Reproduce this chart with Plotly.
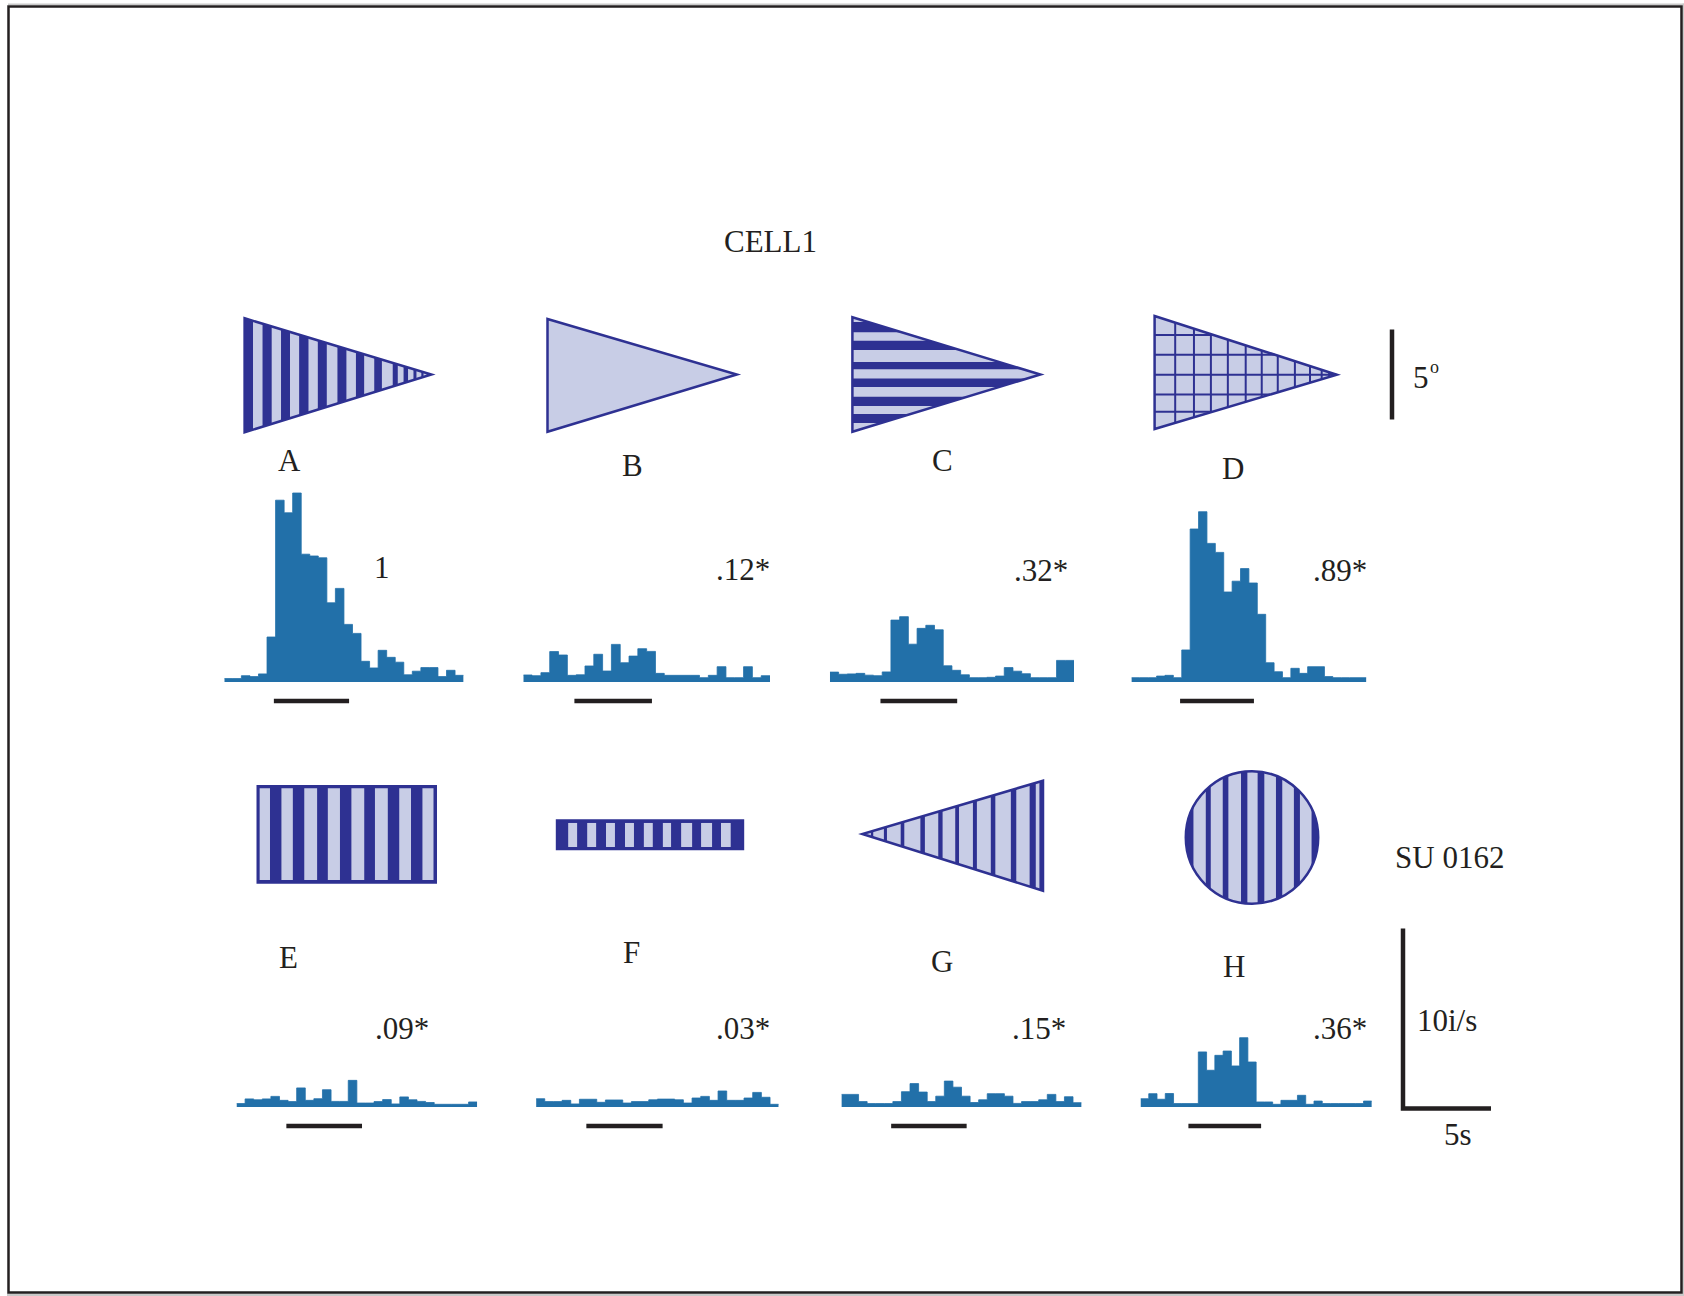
import numpy as np
import plotly.graph_objects as go

# ---------------------------------------------------------------- data
BIN_WIDTH = 0.5          # s per PSTH bin
N_BINS = 28              # 14 s sweep
STIM_ON, STIM_OFF = 2.9, 7.3   # s, stimulus presentation
SCALE_RATE = 10          # i/s, vertical calibration
SCALE_TIME = 5           # s, horizontal calibration

panel_letters = ["A", "B", "C", "D", "E", "F", "G", "H"]
response_ratio = ["1", ".12*", ".32*", ".89*", ".09*", ".03*", ".15*", ".36*"]

# firing rate (impulses/s) per bin
rate_A = [0.19, 0.19, 0.35, 0.30, 0.45, 2.5, 10.1, 9.4, 10.5, 7.1, 7.0, 6.9, 4.4, 5.2,
          3.2, 2.7, 1.15, 0.78, 1.76, 1.37, 1.1, 0.4, 0.6, 0.8, 0.8, 0.3, 0.65, 0.37]
rate_B = [0.39, 0.35, 0.52, 1.69, 1.5, 0.37, 0.4, 0.89, 1.54, 0.61, 2.09, 1.07, 1.44, 1.85,
          1.7, 0.48, 0.37, 0.37, 0.37, 0.37, 0.24, 0.37, 0.85, 0.24, 0.24, 0.85, 0.24, 0.35]
rate_C = [0.55, 0.43, 0.45, 0.48, 0.38, 0.35, 0.56, 3.44, 3.63, 2.1, 2.98, 3.15, 2.9, 0.9,
          0.65, 0.4, 0.24, 0.24, 0.26, 0.33, 0.8, 0.6, 0.46, 0.24, 0.24, 0.24, 1.2, 1.2]
rate_D = [0.24, 0.24, 0.24, 0.33, 0.37, 0.24, 1.78, 8.5, 9.46, 7.7, 7.2, 5.0, 5.6, 6.3,
          5.5, 3.76, 1.07, 0.57, 0.24, 0.76, 0.48, 0.85, 0.85, 0.3, 0.24, 0.24, 0.24, 0.24]
rate_E = [0.19, 0.45, 0.4, 0.45, 0.59, 0.37, 0.3, 1.06, 0.37, 0.46, 0.96, 0.31, 0.31, 1.48,
          0.22, 0.22, 0.3, 0.41, 0.17, 0.56, 0.4, 0.31, 0.25, 0.15, 0.15, 0.15, 0.15, 0.28]
rate_F = [0.46, 0.3, 0.3, 0.37, 0.17, 0.43, 0.43, 0.26, 0.39, 0.39, 0.22, 0.3, 0.3, 0.4,
          0.44, 0.44, 0.4, 0.22, 0.5, 0.59, 0.37, 0.89, 0.37, 0.37, 0.5, 0.81, 0.54, 0.15]
rate_G = [0.7, 0.7, 0.3, 0.19, 0.19, 0.19, 0.3, 0.85, 1.3, 0.83, 0.3, 0.6, 1.44, 1.1,
          0.6, 0.25, 0.4, 0.74, 0.74, 0.6, 0.2, 0.3, 0.3, 0.4, 0.7, 0.3, 0.57, 0.24]
rate_H = [0.46, 0.74, 0.43, 0.75, 0.19, 0.19, 0.19, 3.06, 2.04, 2.87, 3.11, 2.28, 3.85, 2.5,
          0.28, 0.28, 0.15, 0.37, 0.37, 0.65, 0.15, 0.33, 0.19, 0.19, 0.19, 0.19, 0.19, 0.33]
rates = [rate_A, rate_B, rate_C, rate_D, rate_E, rate_F, rate_G, rate_H]

# ---------------------------------------------------------------- layout constants
W, H = 1684, 1296
PX_PER_RATE = 18.0       # px per impulse/s
Y_LO, Y_HI = -1.6, 11.2
STIM_BAR_Y = -1.05

INK = "#231f20"
NAVY = "#2e3192"
LAVENDER = "#c8cde6"
HIST = "#2270a9"
FONT = "Liberation Serif"

# pixel extent of each histogram: (left, right, baseline)
panel_px = [
    (224.3, 463.6, 682), (523.3, 770.0, 682), (829.9, 1074.0, 682), (1131.4, 1366.4, 682),
    (236.5, 477.2, 1107), (536.1, 778.7, 1107), (841.4, 1081.6, 1107), (1140.5, 1371.8, 1107),
]


def px(x, y):
    return x / W, 1 - y / H


fig = go.Figure()
layout_axes = {}
edges = np.arange(N_BINS + 1) * BIN_WIDTH

for i, (r, (x0, x1, base)) in enumerate(zip(rates, panel_px)):
    n = i + 1
    xa, ya = ("x" if n == 1 else f"x{n}"), ("y" if n == 1 else f"y{n}")
    fig.add_trace(go.Scatter(
        x=edges, y=list(r) + [r[-1]], mode="lines", line_shape="hv",
        line=dict(color=HIST, width=0.8), fill="tozeroy", fillcolor=HIST,
        xaxis=xa, yaxis=ya, hoverinfo="skip", showlegend=False))
    fig.add_trace(go.Scatter(
        x=[STIM_ON, STIM_OFF], y=[STIM_BAR_Y, STIM_BAR_Y], mode="lines",
        line=dict(color=INK, width=4.5), xaxis=xa, yaxis=ya,
        hoverinfo="skip", showlegend=False))
    bottom_px = base - Y_LO * PX_PER_RATE
    top_px = base - Y_HI * PX_PER_RATE
    kx = "xaxis" if n == 1 else f"xaxis{n}"
    ky = "yaxis" if n == 1 else f"yaxis{n}"
    layout_axes[kx] = dict(domain=[x0 / W, x1 / W], range=[0, N_BINS * BIN_WIDTH],
                           visible=False, anchor=ya, fixedrange=True)
    layout_axes[ky] = dict(domain=[1 - bottom_px / H, 1 - top_px / H], range=[Y_LO, Y_HI],
                           visible=False, anchor=xa, fixedrange=True)

# calibration bars (10 i/s, 5 s)
cal_origin = (1403.0, 1108.5)
cal_px_per_s = 17.6
fig.add_trace(go.Scatter(
    x=[0, 0, SCALE_TIME], y=[SCALE_RATE, 0, 0], mode="lines",
    line=dict(color=INK, width=4.5), xaxis="x9", yaxis="y9",
    hoverinfo="skip", showlegend=False))
layout_axes["xaxis9"] = dict(
    domain=[(cal_origin[0] - 0.5 * cal_px_per_s) / W, (cal_origin[0] + 6.5 * cal_px_per_s) / W],
    range=[-0.5, 6.5], visible=False, anchor="y9", fixedrange=True)
layout_axes["yaxis9"] = dict(
    domain=[1 - (cal_origin[1] + 1 * PX_PER_RATE) / H, 1 - (cal_origin[1] - 11 * PX_PER_RATE) / H],
    range=[-1, 11], visible=False, anchor="x9", fixedrange=True)

# ---------------------------------------------------------------- stimulus icons
shapes = []


def poly(points, fill, line_color=None, width=0):
    pts = [px(x, y) for x, y in points]
    d = "M " + " L ".join(f"{a:.6f},{b:.6f}" for a, b in pts) + " Z"
    shapes.append(dict(type="path", xref="paper", yref="paper", path=d,
                       fillcolor=fill, line=dict(color=line_color or fill, width=width)))


def seg(p, q, color, width):
    a, b = px(*p)
    c, d = px(*q)
    shapes.append(dict(type="line", xref="paper", yref="paper", x0=a, y0=b, x1=c, y1=d,
                       line=dict(color=color, width=width)))


class Wedge:
    """Isosceles triangle: base edge at x=xb from yt to yb, apex at (xt, ym)."""

    def __init__(self, xb, yt, yb, xt, ym):
        self.xb, self.yt, self.yb, self.xt, self.ym = xb, yt, yb, xt, ym

    def x_at(self, u):
        return self.xb + u * (self.xt - self.xb)

    def top(self, x):
        return self.yt + (self.ym - self.yt) * (x - self.xb) / (self.xt - self.xb)

    def bot(self, x):
        return self.yb + (self.ym - self.yb) * (x - self.xb) / (self.xt - self.xb)

    def corners(self):
        return [(self.xb, self.yt), (self.xt, self.ym), (self.xb, self.yb)]

    def xe(self, y):
        if y <= self.ym:
            f = (y - self.yt) / (self.ym - self.yt)
        else:
            f = (self.yb - y) / (self.yb - self.ym)
        return self.xb + f * (self.xt - self.xb)

    def vstripe(self, u0, u1, color):
        a, b = self.x_at(u0), self.x_at(u1)
        poly([(a, self.top(a)), (b, self.top(b)), (b, self.bot(b)), (a, self.bot(a))], color)

    def hband(self, v0, v1, color):
        h = self.yb - self.yt
        y0, y1 = self.yt + v0 * h, self.yt + v1 * h
        pts = [(self.xb, y0), (self.xe(y0), y0)]
        if y0 < self.ym < y1:
            pts.append((self.xt, self.ym))
        pts += [(self.xe(y1), y1), (self.xb, y1)]
        poly(pts, color)

    def outline(self, width=2.5):
        poly(self.corners(), "rgba(0,0,0,0)", NAVY, width)


# A: grating wedge, bars narrowing toward apex
wA = Wedge(244.6, 318.3, 432.3, 431.4, 374.5)
poly(wA.corners(), LAVENDER)
for u0, u1 in [(0, 0.045), (0.096, 0.145), (0.195, 0.243), (0.292, 0.342), (0.392, 0.44),
               (0.497, 0.545), (0.596, 0.64), (0.694, 0.735), (0.793, 0.82), (0.851, 0.875),
               (0.904, 0.92), (0.946, 0.958), (0.975, 0.985)]:
    wA.vstripe(u0, u1, NAVY)
wA.outline()

# B: uniform wedge
wB = Wedge(547.5, 319.0, 431.7, 736.8, 374.5)
poly(wB.corners(), LAVENDER)
wB.outline()

# C: horizontal grating wedge
wC = Wedge(852.4, 317.3, 431.7, 1040.4, 374.5)
poly(wC.corners(), LAVENDER)
for v0, v1 in [(0.04, 0.13), (0.205, 0.285), (0.39, 0.455), (0.535, 0.61), (0.695, 0.775),
               (0.845, 0.925)]:
    wC.hband(v0, v1, NAVY)
wC.outline()

# D: checkerboard-grid wedge
wD = Wedge(1154.6, 316.0, 429.0, 1336.8, 374.7)
poly(wD.corners(), LAVENDER)
for u in [0.113, 0.216, 0.309, 0.402, 0.5, 0.588, 0.676, 0.77, 0.853, 0.917, 0.958]:
    x = wD.x_at(u)
    seg((x, wD.top(x)), (x, wD.bot(x)), NAVY, 2)
for v in [0.168, 0.343, 0.52, 0.695, 0.848]:
    y = wD.yt + v * (wD.yb - wD.yt)
    seg((wD.xb, y), (wD.xe(y), y), NAVY, 2)
wD.outline()

# E: large square-wave grating
ex0, ex1, ey0, ey1 = 257.5, 436.0, 786.0, 882.7
poly([(ex0, ey0), (ex1, ey0), (ex1, ey1), (ex0, ey1)], NAVY, NAVY, 2)
for u0, u1 in [(0.012, 0.07), (0.134, 0.198), (0.262, 0.334), (0.394, 0.462), (0.526, 0.598),
               (0.658, 0.73), (0.794, 0.86), (0.924, 0.986)]:
    a, b = ex0 + u0 * (ex1 - ex0), ex0 + u1 * (ex1 - ex0)
    c, d = ey0 + 0.024 * (ey1 - ey0), ey0 + 0.972 * (ey1 - ey0)
    poly([(a, c), (b, c), (b, d), (a, d)], LAVENDER)

# F: thin grating strip
fx0, fx1, fy0, fy1 = 556.8, 743.2, 820.3, 849.3
poly([(fx0, fy0), (fx1, fy0), (fx1, fy1), (fx0, fy1)], NAVY, NAVY, 2)
for u0, u1 in [(0.061, 0.109), (0.163, 0.211), (0.264, 0.312), (0.366, 0.414), (0.467, 0.515),
               (0.569, 0.613), (0.667, 0.726), (0.774, 0.833), (0.881, 0.933)]:
    a, b = fx0 + u0 * (fx1 - fx0), fx0 + u1 * (fx1 - fx0)
    c, d = fy0 + 0.092 * (fy1 - fy0), fy0 + 0.92 * (fy1 - fy0)
    poly([(a, c), (b, c), (b, d), (a, d)], LAVENDER)

# G: reversed wedge with thin dark bars
wG = Wedge(1043.0, 780.7, 890.7, 862.4, 834.0)
poly(wG.corners(), LAVENDER)
for u0, u1 in [(0.0, 0.02), (0.04, 0.074), (0.148, 0.178), (0.264, 0.289), (0.366, 0.388),
               (0.465, 0.486), (0.556, 0.58), (0.654, 0.679), (0.768, 0.788), (0.864, 0.881),
               (0.94, 0.953)]:
    wG.vstripe(u0, u1, NAVY)
wG.outline()

# H: circular grating patch
cx, cy, rad = 1252.0, 837.5, 66.2
a, b = px(cx - rad, cy - rad)
c, d = px(cx + rad, cy + rad)
shapes.append(dict(type="circle", xref="paper", yref="paper", x0=a, y0=d, x1=c, y1=b,
                   fillcolor=LAVENDER, line=dict(width=0)))
for u0, u1 in [(-1, -0.885), (-0.698, -0.623), (-0.442, -0.357), (-0.166, -0.07),
               (0.085, 0.186), (0.362, 0.457), (0.633, 0.724), (0.9, 1)]:
    xs = np.linspace(cx + u0 * rad, cx + u1 * rad, 18)
    hh = np.sqrt(np.clip(rad ** 2 - (xs - cx) ** 2, 0, None))
    pts = [(x, cy - h) for x, h in zip(xs, hh)] + [(x, cy + h) for x, h in zip(xs[::-1], hh[::-1])]
    poly(pts, NAVY)
shapes.append(dict(type="circle", xref="paper", yref="paper", x0=a, y0=d, x1=c, y1=b,
                   fillcolor="rgba(0,0,0,0)", line=dict(color=NAVY, width=2.5)))

# 5 degree size bar
seg((1392, 329.5), (1392, 419.5), INK, 4.5)

# page frame with faint shadow
for rect in [(8, 3.5, 1684, 5.0), (1682.5, 3.5, 1684, 1296), (7, 1293.5, 1684, 1296)]:
    x0r, y0r, x1r, y1r = rect
    poly([(x0r, y0r), (x1r, y0r), (x1r, y1r), (x0r, y1r)], "#c9c9c9")
poly([(8.5, 6.5), (1681.5, 6.5), (1681.5, 1292.5), (8.5, 1292.5)], "rgba(0,0,0,0)", INK, 2.5)

# ---------------------------------------------------------------- text
ann = []


def text(t, x, y, size=31, xanchor="center"):
    a, b = px(x, y)
    ann.append(dict(text=t, x=a, y=b, xref="paper", yref="paper", showarrow=False,
                    xanchor=xanchor, yanchor="middle",
                    font=dict(family=FONT, size=size, color=INK)))


text("CELL1", 770, 241)
letter_pos = [(289, 460), (632, 465), (942, 460), (1233, 468),
              (288, 957), (631, 952), (942, 961), (1234, 966)]
ratio_pos = [(382, 568), (743, 569), (1041, 570), (1340, 570),
             (402, 1028), (743, 1028), (1039, 1028), (1340, 1028)]
for lt, (x, y) in zip(panel_letters, letter_pos):
    text(lt, x, y)
for rt, (x, y) in zip(response_ratio, ratio_pos):
    text(rt, x, y)
# 5 degree label: numeral plus small raised "o"
text("5", 1411, 377, xanchor="left")
text("o", 1428, 367, size=18, xanchor="left")
text("SU 0162", 1449, 857)
text(f"{SCALE_RATE}i/s", 1447, 1020)
text(f"{SCALE_TIME}s", 1458, 1134)

fig.update_layout(
    width=W, height=H, margin=dict(l=0, r=0, t=0, b=0),
    paper_bgcolor="white", plot_bgcolor="rgba(0,0,0,0)",
    showlegend=False, shapes=shapes, annotations=ann, **layout_axes)

fig.write_html("out.html", config={"displayModeBar": False})
